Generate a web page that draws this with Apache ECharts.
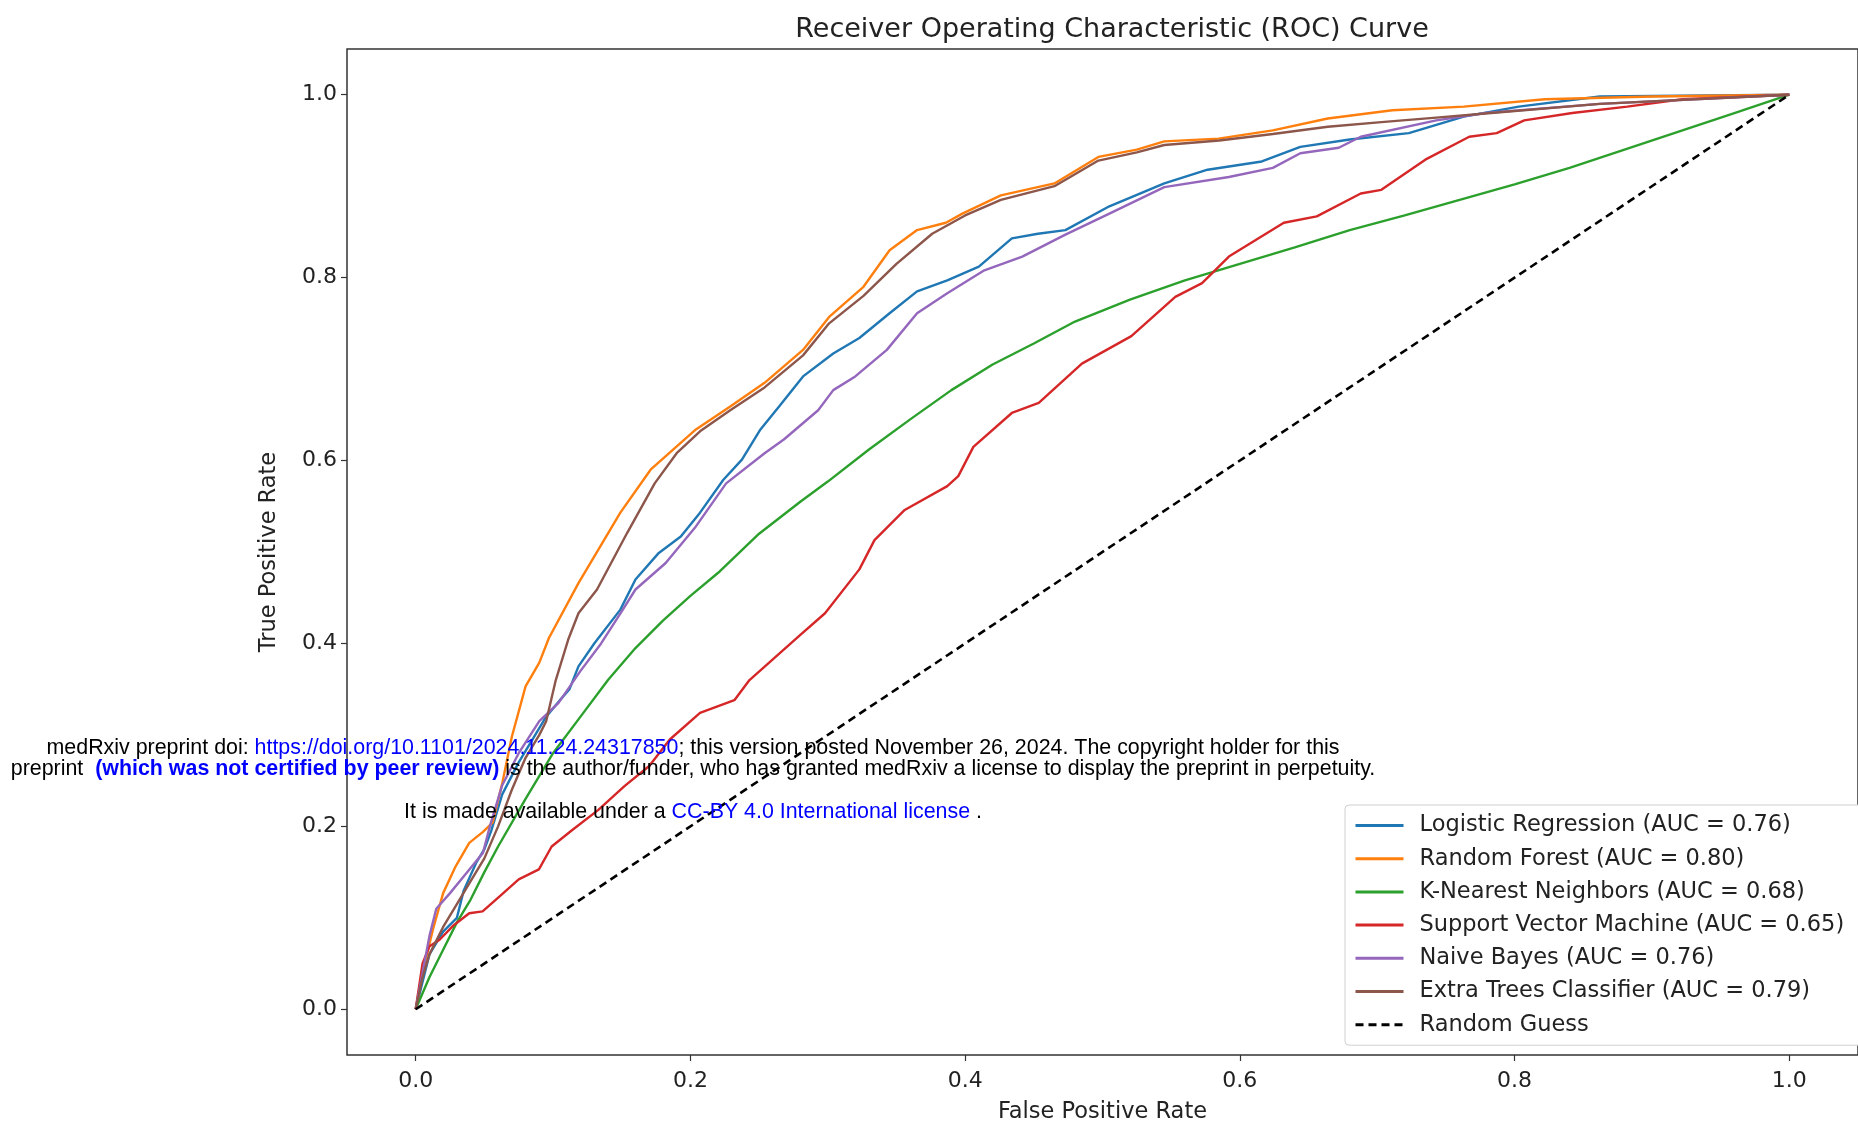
<!DOCTYPE html>
<html>
<head>
<meta charset="utf-8">
<title>ROC Curve</title>
<script src="https://cdn.jsdelivr.net/npm/echarts@6/dist/echarts.min.js"></script>
<style>
  html, body { margin: 0; padding: 0; background: #fff; }
  #chart { width: 1858px; height: 1131px; }
</style>
</head>
<body>
<div id="chart"></div>
<script>
// tick positions on both axes
const tickValues = [0, 0.2, 0.4, 0.6, 0.8, 1.0]

// legend names
const seriesNames = [
  'Logistic Regression (AUC = 0.76)',
  'Random Forest (AUC = 0.80)',
  'K-Nearest Neighbors (AUC = 0.68)',
  'Support Vector Machine (AUC = 0.65)',
  'Naive Bayes (AUC = 0.76)',
  'Extra Trees Classifier (AUC = 0.79)',
  'Random Guess'
]

// [fpr, tpr]
const lrPoints = [
  [0, 0], [0.005, 0.03], [0.01, 0.06], [0.02, 0.085], [0.03, 0.10], [0.035, 0.13],
  [0.044, 0.16], [0.05, 0.175], [0.055, 0.195], [0.063, 0.235], [0.075, 0.27],
  [0.083, 0.29], [0.095, 0.32], [0.105, 0.338], [0.112, 0.35], [0.1185, 0.375],
  [0.13, 0.40], [0.149, 0.437], [0.16, 0.47], [0.177, 0.499], [0.193, 0.517],
  [0.207, 0.543], [0.224, 0.579], [0.2375, 0.601], [0.251, 0.634], [0.265, 0.66],
  [0.282, 0.692], [0.304, 0.717], [0.323, 0.734], [0.345, 0.761], [0.365, 0.785],
  [0.387, 0.797], [0.41, 0.812], [0.434, 0.843], [0.453, 0.848], [0.473, 0.852],
  [0.505, 0.878], [0.545, 0.903], [0.5765, 0.918], [0.616, 0.927], [0.644, 0.943],
  [0.68, 0.951], [0.723, 0.958], [0.763, 0.976], [0.803, 0.987], [0.862, 0.998], [1, 1]
]
const rfPoints = [
  [0, 0], [0.005, 0.04], [0.0125, 0.087], [0.02, 0.127], [0.029, 0.156], [0.039, 0.182],
  [0.049, 0.194], [0.056, 0.204], [0.063, 0.247], [0.07, 0.298], [0.08, 0.353],
  [0.09, 0.379], [0.097, 0.406], [0.1185, 0.466], [0.149, 0.543], [0.171, 0.59],
  [0.204, 0.634], [0.229, 0.659], [0.254, 0.685], [0.282, 0.721], [0.301, 0.757],
  [0.326, 0.79], [0.345, 0.83], [0.365, 0.852], [0.386, 0.86], [0.398, 0.87],
  [0.426, 0.89], [0.465, 0.903], [0.497, 0.932], [0.525, 0.94], [0.545, 0.949],
  [0.5845, 0.952], [0.624, 0.961], [0.664, 0.974], [0.711, 0.983], [0.763, 0.987],
  [0.822, 0.995], [0.9, 0.998], [1, 1]
]
const knnPoints = [
  [0, 0], [0.01, 0.035], [0.02, 0.065], [0.03, 0.095], [0.04, 0.12], [0.05, 0.15],
  [0.06, 0.178], [0.08, 0.23], [0.10, 0.28], [0.12, 0.32], [0.14, 0.36], [0.16, 0.395],
  [0.18, 0.425], [0.20, 0.452], [0.22, 0.477], [0.25, 0.52], [0.28, 0.555], [0.30, 0.577],
  [0.33, 0.612], [0.36, 0.645], [0.39, 0.677], [0.42, 0.705], [0.45, 0.728], [0.48, 0.752],
  [0.52, 0.776], [0.56, 0.797], [0.60, 0.815], [0.64, 0.833], [0.68, 0.852], [0.72, 0.868],
  [0.76, 0.885], [0.80, 0.902], [0.84, 0.92], [0.88, 0.94], [0.92, 0.96], [0.96, 0.98], [1, 1]
]
const svmPoints = [
  [0, 0], [0.005, 0.05], [0.0101, 0.069], [0.0174, 0.076], [0.027, 0.091], [0.039, 0.105],
  [0.0487, 0.107], [0.0607, 0.123], [0.075, 0.142], [0.0897, 0.153], [0.099, 0.178],
  [0.114, 0.196], [0.133, 0.218], [0.152, 0.244], [0.17, 0.266], [0.185, 0.295],
  [0.207, 0.324], [0.232, 0.338], [0.243, 0.36], [0.279, 0.408], [0.298, 0.433],
  [0.323, 0.481], [0.334, 0.513], [0.356, 0.546], [0.387, 0.572], [0.395, 0.583],
  [0.406, 0.615], [0.434, 0.652], [0.4536, 0.663], [0.485, 0.706], [0.521, 0.736],
  [0.553, 0.779], [0.5725, 0.794], [0.592, 0.823], [0.632, 0.86], [0.656, 0.867],
  [0.688, 0.892], [0.703, 0.896], [0.735, 0.929], [0.767, 0.954], [0.787, 0.958],
  [0.807, 0.972], [0.842, 0.98], [0.882, 0.987], [0.922, 0.995], [1, 1]
]
const nbPoints = [
  [0, 0], [0.005, 0.04], [0.01, 0.08], [0.015, 0.11], [0.025, 0.127], [0.037, 0.149],
  [0.049, 0.171], [0.054, 0.20], [0.063, 0.245], [0.075, 0.28], [0.09, 0.315],
  [0.104, 0.335], [0.12, 0.37], [0.135, 0.40], [0.15, 0.435], [0.16, 0.459],
  [0.182, 0.488], [0.204, 0.528], [0.226, 0.575], [0.254, 0.608], [0.268, 0.623],
  [0.293, 0.655], [0.304, 0.677], [0.32, 0.692], [0.343, 0.721], [0.365, 0.761],
  [0.387, 0.783], [0.414, 0.808], [0.4416, 0.823], [0.473, 0.847], [0.505, 0.87],
  [0.545, 0.899], [0.592, 0.91], [0.624, 0.92], [0.644, 0.936], [0.672, 0.942],
  [0.688, 0.954], [0.743, 0.972], [0.779, 0.98], [0.862, 0.99], [1, 1]
]
const etPoints = [
  [0, 0], [0.005, 0.035], [0.01, 0.06], [0.02, 0.09], [0.03, 0.115], [0.04, 0.14],
  [0.05, 0.165], [0.06, 0.20], [0.07, 0.24], [0.08, 0.275], [0.09, 0.30], [0.095, 0.315],
  [0.102, 0.36], [0.111, 0.404], [0.1185, 0.433], [0.132, 0.459], [0.154, 0.521],
  [0.174, 0.575], [0.19, 0.608], [0.207, 0.632], [0.229, 0.655], [0.254, 0.68],
  [0.282, 0.715], [0.301, 0.75], [0.326, 0.78], [0.35, 0.815], [0.376, 0.848],
  [0.4, 0.868], [0.426, 0.885], [0.465, 0.9], [0.497, 0.928], [0.525, 0.937],
  [0.545, 0.945], [0.585, 0.95], [0.624, 0.957], [0.664, 0.965], [0.703, 0.97],
  [0.743, 0.975], [0.783, 0.98], [0.862, 0.99], [1, 1]
]
const guessPoints = [[0, 0], [1, 1]]

const colors = ['#1f77b4', '#ff7f0e', '#2ca02c', '#d62728', '#9467bd', '#8c564b', '#000000']
const allPoints = [lrPoints, rfPoints, knnPoints, svmPoints, nbPoints, etPoints, guessPoints]

const FONT = 'DejaVu Sans'
const WM_FONT = 'Liberation Sans'

const chart = echarts.init(document.getElementById('chart'))

const series = allPoints.map((pts, i) => ({
  name: seriesNames[i],
  type: 'line',
  data: pts,
  symbol: 'none',
  showSymbol: false,
  smooth: false,
  color: colors[i],
  lineStyle: {
    color: colors[i],
    width: i === 6 ? 2.6 : 2.4,
    type: i === 6 ? [8, 5] : 'solid'
  },
  z: 2 + i
}))

const axisCommon = {
  type: 'value',
  min: -0.05,
  max: 1.05,
  splitLine: { show: false },
  axisLine: { show: false, onZero: false },
  axisTick: {
    show: true,
    customValues: tickValues,
    length: 6,
    lineStyle: { color: '#333', width: 1.2 }
  },
  axisLabel: {
    customValues: tickValues,
    formatter: v => v.toFixed(1),
    fontFamily: FONT,
    fontSize: 22,
    color: '#222'
  },
  nameLocation: 'middle',
  nameTextStyle: { fontFamily: FONT, fontSize: 22.5, color: '#222' }
}

const option = {
  animation: false,
  backgroundColor: '#fff',
  title: {
    text: 'Receiver Operating Characteristic (ROC) Curve',
    left: 1107,
    top: 11,
    textAlign: 'center',
    textStyle: { fontFamily: FONT, fontSize: 27, fontWeight: 'normal', color: '#222' }
  },
  grid: {
    left: 347,
    top: 49,
    width: 1521,
    height: 1006,
    show: true,
    borderColor: '#333',
    borderWidth: 1.5,
    backgroundColor: 'transparent'
  },
  xAxis: Object.assign({}, axisCommon, {
    name: 'False Positive Rate',
    nameGap: 46,
    axisLabel: Object.assign({}, axisCommon.axisLabel, { margin: 15 })
  }),
  yAxis: Object.assign({}, axisCommon, {
    name: 'True Positive Rate',
    nameGap: 66,
    axisLabel: Object.assign({}, axisCommon.axisLabel, { margin: 10 })
  }),
  legend: {
    orient: 'vertical',
    left: 1345,
    top: 805,
    data: seriesNames,
    itemWidth: 48,
    itemHeight: 23,
    itemGap: 10.2,
    padding: [9, 20, 9, 9],
    backgroundColor: '#fff',
    borderColor: '#d0d0d0',
    borderWidth: 1,
    borderRadius: 4,
    itemStyle: { opacity: 0 },
    lineStyle: { width: 3 },
    textStyle: { fontFamily: FONT, fontSize: 22.5, color: '#222', padding: [0, 0, 0, 11] }
  },
  graphic: [
    {
      type: 'text',
      x: 693,
      y: 748,
      z: 100,
      style: {
        text: '{k|medRxiv preprint doi: }{u|https://doi.org/10.1101/2024.11.24.24317850}{k|; this version posted November 26, 2024. The copyright holder for this}',
        align: 'center',
        verticalAlign: 'middle',
        rich: {
          k: { fontFamily: WM_FONT, fontSize: 21.4, fill: '#000' },
          u: { fontFamily: WM_FONT, fontSize: 21.4, fill: '#0000ff' }
        }
      }
    },
    {
      type: 'text',
      x: 693,
      y: 769,
      z: 100,
      style: {
        text: '{k|preprint  }{b|(which was not certified by peer review)}{k| is the author/funder, who has granted medRxiv a license to display the preprint in perpetuity.}',
        align: 'center',
        verticalAlign: 'middle',
        rich: {
          k: { fontFamily: WM_FONT, fontSize: 21.4, fill: '#000' },
          b: { fontFamily: WM_FONT, fontSize: 21.4, fontWeight: 'bold', fill: '#0000ff' }
        }
      }
    },
    {
      type: 'text',
      x: 693,
      y: 812,
      z: 100,
      style: {
        text: '{k|It is made available under a }{u|CC-BY 4.0 International license}{k| .}',
        align: 'center',
        verticalAlign: 'middle',
        rich: {
          k: { fontFamily: WM_FONT, fontSize: 21.4, fill: '#000' },
          u: { fontFamily: WM_FONT, fontSize: 21.4, fill: '#0000ff' }
        }
      }
    }
  ],
  series: series
}

chart.setOption(option)
</script>
</body>
</html>
